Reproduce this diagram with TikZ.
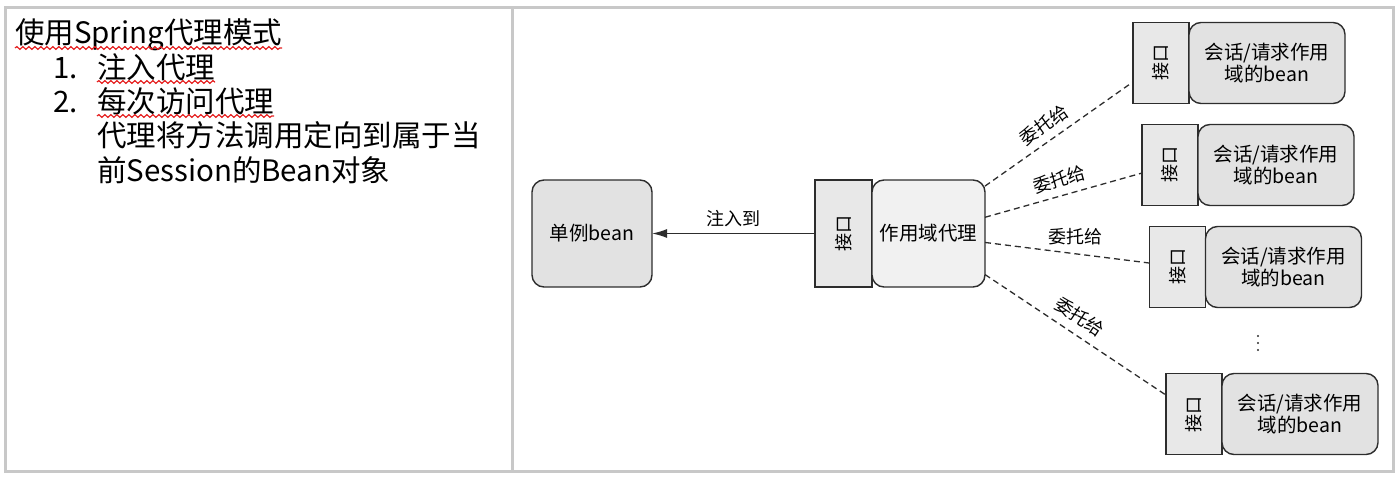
\documentclass[tikz,border=0pt]{standalone}
\usepackage{fontspec}
\setmainfont{Noto Sans CJK SC}
\usepackage{graphicx}
\usepackage{tikz}
\usetikzlibrary{arrows.meta,positioning,decorations.pathmorphing}
\definecolor{framegray}{RGB}{200,200,200}
\definecolor{edgegray}{RGB}{45,45,45}
\definecolor{beangray}{RGB}{226,226,226}
\definecolor{proxygray}{RGB}{241,241,241}
\definecolor{ifacegray}{RGB}{232,232,232}
\definecolor{squigglered}{RGB}{228,30,30}
\tikzstyle{listtext} = [inner sep=0pt, outer sep=0pt, font=\fontsize{29.5}{32}\selectfont]
\tikzstyle{squiggle} = [squigglered, line width=1.2pt, decorate, decoration={snake, amplitude=1.4pt, segment length=6pt}]
\tikzstyle{iface} = [rectangle, draw=edgegray, fill=ifacegray, line width=1.4pt, minimum width=56pt, minimum height=81pt, inner sep=0pt, outer sep=0pt, font=\fontsize{18}{18}\selectfont]
\tikzstyle{beanbox} = [rectangle, rounded corners=12pt, draw=edgegray, fill=beangray, line width=1.4pt, minimum width=156pt, minimum height=81pt, inner sep=0pt, outer sep=0pt, align=center, font=\fontsize{19.5}{22}\selectfont]
\tikzstyle{lbl} = [inner sep=2pt, font=\fontsize{18}{18}\selectfont]
\tikzstyle{inject} = [line width=1.4pt, draw=edgegray, -{Latex[length=15pt, width=9pt]}]
\tikzstyle{delegate} = [line width=1.3pt, draw=edgegray, dash pattern=on 6pt off 4pt]

\begin{document}
\begin{tikzpicture}[x=1pt, y=-1pt]
\useasboundingbox (0,0) rectangle (1400,478);
% Table frame
\draw[framegray, line width=3pt] (5,8) rectangle (1393,471);
\draw[framegray, line width=3pt] (512.5,8) -- (512.5,471);

% Left cell
\node (title) [listtext, anchor=base west] at (15,44) {使用Spring代理模式};
\node (num1) [listtext, anchor=base west] at (53,79) {1.};
\node (item1) [listtext, anchor=base west] at (97,79) {注入代理};
\node (num2) [listtext, anchor=base west] at (53,113) {2.};
\node (item2) [listtext, anchor=base west] at (97,113) {每次访问代理};
\node (desc1) [listtext, anchor=base west] at (97,147) {代理将方法调用定向到属于当};
\node (desc2) [listtext, anchor=base west] at (97,182) {前Session的Bean对象};
\draw[squiggle] ([yshift=-4pt]title.base west) -- ([yshift=-4pt]title.base east);
\draw[squiggle] ([yshift=-3pt]item1.base west) -- ([yshift=-3pt]item1.base east);
\draw[squiggle] ([yshift=-3pt]item2.base west) -- ([yshift=-3pt]item2.base east);

% Singleton and proxy
\node (single) [beanbox, minimum width=120pt, minimum height=107pt] at (592,233.5) {单例bean};
\node (pif) [iface, minimum width=57pt, minimum height=107pt] at (843.5,233.5) {\rotatebox{90}{接口}};
\node (proxy) [beanbox, fill=proxygray, minimum width=113pt, minimum height=107pt, right=0pt of pif] {作用域代理};
\draw[inject] (pif.west) -- node [midway, above=4pt, lbl] {注入到} (single.east);

% Session / request beans
\node (b1if) [iface] at (1161,63) {\rotatebox{90}{接口}};
\node (b1) [beanbox, right=0pt of b1if] {会话/请求作用\\域的bean};
\node (b2if) [iface] at (1170,165) {\rotatebox{90}{接口}};
\node (b2) [beanbox, right=0pt of b2if] {会话/请求作用\\域的bean};
\node (b3if) [iface] at (1177.5,267) {\rotatebox{90}{接口}};
\node (b3) [beanbox, right=0pt of b3if] {会话/请求作用\\域的bean};
\node (b4if) [iface] at (1194,414) {\rotatebox{90}{接口}};
\node (b4) [beanbox, right=0pt of b4if] {会话/请求作用\\域的bean};
% more beans
\foreach \d in {336,343,350}
  \fill[edgegray] (1258,\d) circle (1.2pt);

% Delegation
\draw[delegate] (proxy.40) -- node [pos=0.46, above=5pt, sloped, lbl] {委托给} (b1if.214);
\draw[delegate] (proxy.16) -- node [pos=0.5, above=5pt, sloped, lbl] {委托给} (b2if.196);
\draw[delegate] (proxy.-9) -- node [pos=0.55, above=6pt, lbl] {委托给} (b3if.172);
\draw[delegate] (proxy.-36) -- node [pos=0.47, above=6pt, sloped, lbl] {委托给} (b4if.146);
\end{tikzpicture}
\end{document}
